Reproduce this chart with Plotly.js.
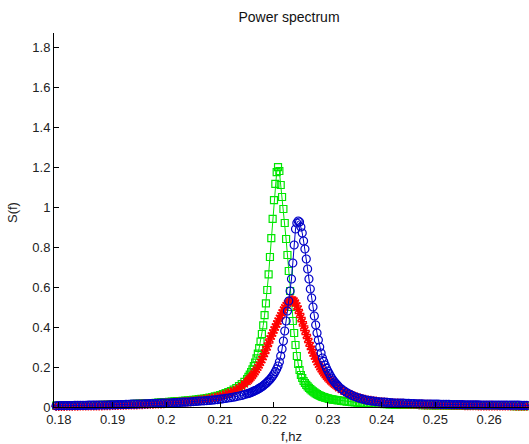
<!DOCTYPE html>
<html>
<head>
<meta charset="utf-8">
<script src="https://cdn.plot.ly/plotly-3.0.1.min.js"></script>
<style>
html,body{margin:0;padding:0;background:#fff;}
#chart{width:529px;height:444px;}
</style>
</head>
<body>
<div id="chart"></div>
<script>
// Frequency grid (Hz)
const freq = [
  0.1790,0.1795,0.1800,0.1805,0.1810,0.1815,0.1820,0.1825,0.1830,0.1835,
  0.1840,0.1845,0.1850,0.1855,0.1860,0.1865,0.1870,0.1875,0.1880,0.1885,
  0.1890,0.1895,0.1900,0.1905,0.1910,0.1915,0.1920,0.1925,0.1930,0.1935,
  0.1940,0.1945,0.1950,0.1955,0.1960,0.1965,0.1970,0.1975,0.1980,0.1985,
  0.1990,0.1995,0.2000,0.2005,0.2010,0.2015,0.2020,0.2025,0.2030,0.2035,
  0.2040,0.2045,0.2050,0.2055,0.2060,0.2065,0.2070,0.2075,0.2080,0.2085,
  0.2090,0.2095,0.2100,0.2105,0.2110,0.2115,0.2120,0.2125,0.2130,0.2135,
  0.2140,0.2145,0.2150,
  0.21525,0.2155,0.21575,0.2160,0.21625,0.2165,0.21675,0.2170,0.21725,0.2175,
  0.21775,0.2180,0.21825,0.2185,0.21875,0.2190,0.21925,0.2195,0.21975,0.2200,
  0.22025,0.2205,0.22075,0.2210,0.22125,0.2215,0.22175,0.2220,0.22225,0.2225,
  0.22275,0.2230,0.22325,0.2235,0.22375,0.2240,0.22425,0.2245,0.22475,0.2250,
  0.22525,0.2255,0.22575,0.2260,0.22625,0.2265,0.22675,0.2270,0.22725,0.2275,
  0.22775,0.2280,0.22825,0.2285,0.22875,0.2290,0.22925,0.2295,0.22975,0.2300,
  0.23025,0.2305,0.23075,0.2310,0.23125,0.2315,0.23175,
  0.2320,0.2325,0.2330,0.2335,0.2340,0.2345,0.2350,0.2355,0.2360,0.2365,
  0.2370,0.2375,0.2380,0.2385,0.2390,0.2395,0.2400,0.2405,0.2410,0.2415,
  0.2420,0.2425,0.2430,0.2435,0.2440,0.2445,0.2450,0.2455,0.2460,0.2465,
  0.2470,0.2475,0.2480,0.2485,0.2490,0.2495,0.2500,0.2505,0.2510,0.2515,
  0.2520,0.2525,0.2530,0.2535,0.2540,0.2545,0.2550,0.2555,0.2560,0.2565,
  0.2570,0.2575,0.2580,0.2585,0.2590,0.2595,0.2600,0.2605,0.2610,0.2615,
  0.2620,0.2625,0.2630,0.2635,0.2640,0.2645,0.2650,0.2655,0.2660,0.2665,
  0.2670,0.2675
];

// Green squares series
const sGreen = [
  .007,.007,.007,.007,.007,.008,.008,.008,.008,.008,
  .008,.009,.009,.009,.009,.010,.010,.010,.011,.011,
  .011,.012,.012,.012,.013,.013,.014,.014,.015,.015,
  .016,.016,.017,.017,.018,.019,.019,.020,.021,.022,
  .023,.024,.025,.026,.027,.028,.029,.030,.031,.032,
  .033,.034,.036,.037,.039,.041,.042,.044,.047,.050,
  .053,.056,.060,.064,.069,.074,.080,.087,.095,.104,
  .114,.126,.140,
  .151,.162,.174,.188,.204,.222,.243,.267,.295,.327,
  .365,.408,.459,.518,.585,.663,.750,.844,.941,1.034,
  1.116,1.174,1.199,1.180,1.110,1.050,.990,.920,.840,.760,
  .680,.580,.500,.430,.370,.310,.255,.215,.185,.160,
  .145,.130,.120,.111,.103,.096,.089,.083,.078,.073,
  .068,.064,.060,.057,.054,.051,.049,.047,.045,.043,
  .041,.040,.038,.037,.036,.035,.034,
  .033,.031,.029,.027,.026,.024,.023,.022,.021,.020,
  .019,.018,.017,.016,.016,.015,.015,.014,.014,.013,
  .013,.012,.012,.012,.011,.011,.011,.010,.010,.010,
  .010,.009,.009,.009,.009,.008,.008,.008,.008,.008,
  .008,.007,.007,.007,.007,.007,.007,.006,.006,.006,
  .006,.006,.006,.006,.006,.005,.005,.005,.005,.005,
  .005,.005,.005,.005,.005,.004,.004,.004,.004,.004,
  .004,.004
];

// Red asterisks series
const sRed = [
  .004,.004,.004,.004,.004,.005,.005,.005,.005,.005,
  .006,.006,.006,.006,.006,.007,.007,.007,.007,.008,
  .008,.008,.009,.009,.009,.010,.010,.010,.011,.011,
  .012,.012,.013,.013,.014,.014,.015,.015,.016,.017,
  .017,.018,.019,.020,.021,.022,.023,.024,.025,.026,
  .027,.028,.030,.031,.033,.035,.037,.039,.041,.044,
  .047,.050,.054,.058,.063,.068,.073,.080,.087,.095,
  .104,.115,.127,
  .134,.141,.149,.157,.166,.176,.187,.198,.210,.223,
  .237,.252,.268,.285,.302,.320,.340,.355,.370,.385,
  .400,.415,.430,.443,.457,.470,.485,.497,.508,.518,
  .526,.531,.534,.535,.530,.520,.505,.488,.468,.447,
  .426,.405,.383,.362,.342,.323,.304,.287,.270,.255,
  .240,.226,.213,.201,.190,.180,.170,.161,.153,.145,
  .138,.131,.125,.119,.113,.108,.103,
  .096,.087,.079,.071,.064,.058,.053,.048,.044,.040,
  .037,.034,.032,.030,.028,.026,.025,.023,.022,.021,
  .020,.019,.018,.017,.017,.016,.015,.015,.014,.014,
  .013,.013,.012,.012,.012,.011,.011,.011,.010,.010,
  .010,.010,.010,.009,.009,.009,.009,.008,.008,.008,
  .008,.008,.007,.007,.007,.007,.007,.007,.006,.006,
  .006,.006,.006,.006,.006,.006,.005,.005,.005,.005,
  .005,.005
];

// Blue circles series
const sBlue = [
  .006,.006,.007,.007,.007,.007,.007,.007,.008,.008,
  .008,.008,.008,.009,.009,.009,.009,.010,.010,.010,
  .010,.011,.011,.011,.012,.012,.012,.013,.013,.014,
  .014,.014,.015,.015,.016,.016,.017,.017,.018,.018,
  .019,.019,.020,.020,.021,.022,.022,.023,.024,.024,
  .025,.026,.027,.028,.029,.030,.031,.032,.033,.034,
  .036,.037,.039,.041,.043,.045,.047,.049,.052,.055,
  .058,.062,.066,
  .068,.070,.073,.076,.079,.082,.085,.089,.093,.097,
  .101,.106,.112,.118,.124,.131,.138,.146,.155,.165,
  .177,.190,.205,.225,.255,.290,.330,.380,.430,.480,
  .530,.580,.640,.720,.810,.890,.920,.930,.925,.900,
  .870,.830,.790,.740,.690,.640,.590,.545,.500,.455,
  .410,.370,.335,.300,.270,.245,.228,.210,.194,.180,
  .167,.155,.144,.134,.125,.117,.110,
  .103,.091,.081,.072,.065,.058,.052,.047,.043,.039,
  .036,.033,.031,.029,.027,.026,.025,.024,.023,.022,
  .021,.020,.020,.019,.019,.018,.018,.017,.017,.016,
  .016,.016,.015,.015,.015,.014,.014,.014,.013,.013,
  .013,.013,.012,.012,.012,.012,.012,.011,.011,.011,
  .011,.011,.011,.010,.010,.010,.010,.010,.010,.010,
  .009,.009,.009,.009,.009,.009,.009,.009,.008,.008,
  .008,.008
];

// Axis ticks
const xTickVals = [0.18,0.19,0.20,0.21,0.22,0.23,0.24,0.25,0.26];
const xTickText = ['0.18','0.19','0.2','0.21','0.22','0.23','0.24','0.25','0.26'];
const yTickVals = [0,0.2,0.4,0.6,0.8,1.0,1.2,1.4,1.6,1.8];
const yTickText = ['0','0.2','0.4','0.6','0.8','1','1.2','1.4','1.6','1.8'];

const FONT = 'Liberation Sans, Arial, Helvetica, sans-serif';

const traces = [
  {
    x: freq, y: sGreen, type: 'scatter', mode: 'lines+markers', name: 'green',
    line: {color: 'rgb(0,230,0)', width: 1},
    marker: {symbol: 'square-open', size: 7, color: 'rgb(0,230,0)', line: {width: 1.2}},
    cliponaxis: false
  },
  {
    x: freq, y: sRed, type: 'scatter', mode: 'lines+markers', name: 'red',
    line: {color: 'rgb(255,0,0)', width: 1.5},
    marker: {symbol: 'asterisk-open', size: 8, color: 'rgb(255,0,0)', line: {width: 1.5}},
    cliponaxis: false
  },
  {
    x: freq, y: sBlue, type: 'scatter', mode: 'lines+markers', name: 'blue',
    line: {color: 'rgb(0,0,200)', width: 1},
    marker: {symbol: 'circle-open', size: 8, color: 'rgb(0,0,200)', line: {width: 1.2}},
    cliponaxis: false
  }
];

const layout = {
  width: 529, height: 444,
  paper_bgcolor: '#fff', plot_bgcolor: '#fff',
  showlegend: false,
  margin: {l: 54, r: 0, t: 33, b: 37, pad: 0},
  font: {family: FONT, size: 13, color: '#222'},
  title: {
    text: 'Power spectrum',
    font: {family: FONT, size: 14, color: '#111'},
    xref: 'container', yref: 'container',
    x: 289/529, y: 1 - 17/444, xanchor: 'center', yanchor: 'middle'
  },
  xaxis: {
    range: [0.17911, 0.2674],
    tickvals: xTickVals, ticktext: xTickText,
    ticks: 'inside', ticklen: 5, tickwidth: 1, tickcolor: '#000',
    showline: true, linecolor: '#000', linewidth: 1,
    showgrid: false, zeroline: false, mirror: false,
    tickfont: {family: FONT, size: 13, color: '#222'},
    title: {text: 'f,hz', font: {family: FONT, size: 13, color: '#222'}, standoff: 6}
  },
  yaxis: {
    range: [0, 1.87],
    tickvals: yTickVals, ticktext: yTickText,
    ticks: 'inside', ticklen: 5, tickwidth: 1, tickcolor: '#000',
    showline: true, linecolor: '#000', linewidth: 1,
    showgrid: false, zeroline: false, mirror: false,
    tickfont: {family: FONT, size: 13, color: '#222'}
  },
  annotations: [
    {
      text: 'S(f)', textangle: -90, showarrow: false,
      xref: 'paper', yref: 'paper',
      x: (12 - 54) / 475, y: (407 - 213) / 374,
      xanchor: 'center', yanchor: 'middle',
      font: {family: FONT, size: 13, color: '#222'}
    }
  ]
};

Plotly.newPlot('chart', traces, layout, {displayModeBar: false, staticPlot: true});
</script>
</body>
</html>
